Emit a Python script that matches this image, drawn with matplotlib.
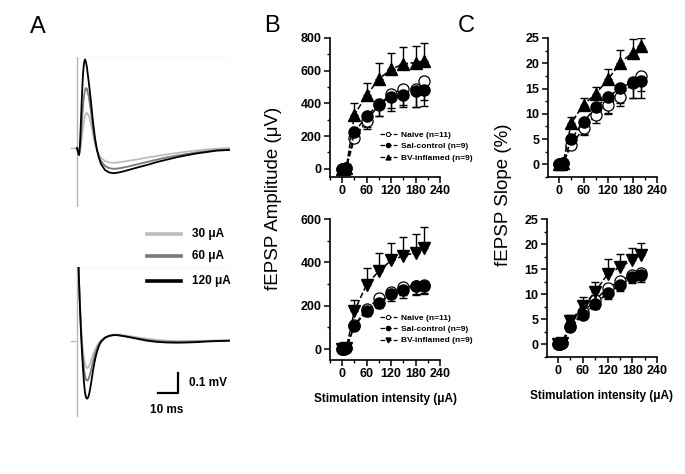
import matplotlib

matplotlib.use("Agg")

import matplotlib.pyplot as plt
from matplotlib.lines import Line2D
from matplotlib.ticker import MultipleLocator, AutoMinorLocator

plt.rcParams["font.family"] = ["Liberation Sans", "DejaVu Sans"]

# ---------------- panel A traces (time in ms, voltage in mV) ----------------
t_top = [0, 0.5, 1.0, 1.5, 2.0, 2.5, 3.0, 3.5, 4.0, 4.5, 5.0, 6.0, 7.0, 8.0, 9.0, 10, 11, 12,
         14, 16, 18, 20, 22, 25, 30, 35, 40, 45, 50, 55, 60, 65, 70, 76]
top_120 = [0, -0.02, -0.035, 0.02, 0.14, 0.27, 0.37, 0.425, 0.443, 0.43, 0.40, 0.32, 0.23, 0.13,
           0.05, -0.01, -0.05, -0.08, -0.11, -0.122, -0.126, -0.124, -0.12, -0.112, -0.098,
           -0.085, -0.07, -0.058, -0.046, -0.036, -0.027, -0.02, -0.013, -0.01]
top_60 = [0, -0.02, -0.035, -0.01, 0.06, 0.14, 0.21, 0.26, 0.29, 0.30, 0.295, 0.25, 0.18, 0.10,
          0.03, -0.01, -0.045, -0.065, -0.09, -0.10, -0.104, -0.103, -0.1, -0.094, -0.082,
          -0.07, -0.058, -0.047, -0.038, -0.03, -0.022, -0.016, -0.01, -0.008]
top_30 = [0, -0.02, -0.035, -0.02, 0.02, 0.06, 0.10, 0.135, 0.16, 0.172, 0.175, 0.16, 0.12, 0.07,
          0.02, -0.01, -0.035, -0.05, -0.065, -0.072, -0.074, -0.073, -0.07, -0.065, -0.057,
          -0.048, -0.04, -0.032, -0.025, -0.018, -0.012, -0.007, -0.003, 0.0]

t_bot = [0, 0.5, 1.0, 1.5, 2.0, 2.5, 3.0, 3.5, 4.0, 4.5, 5.0, 5.5, 6.0, 6.5, 7.0, 8.0, 9.0, 10,
         11, 12, 14, 16, 18, 20, 22, 25, 30, 35, 40, 45, 50, 55, 60, 65, 70, 76]
bot_120 = [0.6, 0.45, 0.3, 0.16, 0.04, -0.06, -0.14, -0.21, -0.26, -0.283, -0.29, -0.285, -0.27,
           -0.245, -0.215, -0.15, -0.095, -0.055, -0.025, -0.005, 0.015, 0.024, 0.028, 0.028,
           0.025, 0.02, 0.01, 0.0, -0.006, -0.009, -0.01, -0.009, -0.007, -0.004, -0.002, 0.0]
bot_60 = [0.6, 0.45, 0.3, 0.17, 0.06, -0.03, -0.09, -0.14, -0.175, -0.195, -0.2, -0.197, -0.185,
          -0.168, -0.148, -0.105, -0.068, -0.04, -0.018, -0.003, 0.014, 0.023, 0.027, 0.028,
          0.026, 0.021, 0.012, 0.004, -0.002, -0.005, -0.006, -0.005, -0.004, -0.002, -0.001, 0.0]
bot_30 = [0.6, 0.45, 0.3, 0.18, 0.08, 0.0, -0.05, -0.09, -0.115, -0.13, -0.137, -0.135, -0.127,
          -0.115, -0.1, -0.07, -0.045, -0.025, -0.01, 0.002, 0.016, 0.025, 0.03, 0.031, 0.029,
          0.025, 0.017, 0.01, 0.004, 0.0, -0.002, -0.002, -0.001, 0.0, 0.002, 0.002]

trace_labels = ["30 \u03bcA", "60 \u03bcA", "120 \u03bcA"]
trace_colors = ["#bdbdbd", "#7a7a7a", "#000000"]

# ---------------- panels B and C ----------------
intensity = [0, 5, 10, 30, 60, 90, 120, 150, 180, 200]

naive_amp1 = [0, 0, 5, 187, 295, 390, 460, 488, 490, 540]
naive_amp1_err = [0, 0, 0, 25, 50, 70, 90, 100, 110, 120]
sal_amp1 = [0, 0, 5, 225, 320, 398, 438, 452, 476, 482]
sal_amp1_err = [0, 0, 0, 20, 62, 75, 85, 75, 99, 97]
bv_amp1 = [0, 0, 5, 332, 450, 550, 608, 642, 650, 660]
bv_amp1_err = [0, 0, 0, 68, 77, 95, 100, 103, 101, 111]

naive_amp2 = [0, 0, 5, 110, 185, 235, 265, 285, 292, 298]
naive_amp2_err = [0, 0, 0, 15, 20, 25, 30, 35, 40, 40]
sal_amp2 = [0, 0, 5, 108, 175, 215, 254, 271, 290, 293]
sal_amp2_err = [0, 0, 0, 15, 20, 25, 30, 35, 40, 40]
bv_amp2 = [0, 0, 5, 177, 298, 360, 409, 430, 445, 468]
bv_amp2_err = [0, 0, 0, 48, 77, 85, 82, 85, 85, 95]

naive_sl1 = [0, 0, 0.2, 3.8, 7.1, 9.7, 11.7, 13.4, 16.0, 17.5]
naive_sl1_err = [0, 0, 0, 0.8, 1.2, 1.5, 1.8, 1.8, 2.8, 3.0]
sal_sl1 = [0, 0, 0.2, 5.0, 8.4, 11.3, 13.3, 15.1, 16.3, 16.4]
sal_sl1_err = [0, 0, 0, 0.8, 2.3, 2.4, 3.2, 3.0, 3.1, 3.2]
bv_sl1 = [0, 0, 0.2, 8.2, 11.8, 14.0, 16.8, 20.1, 22.1, 23.4]
bv_sl1_err = [0, 0, 0, 1.2, 1.4, 1.4, 2.1, 2.5, 2.8, 1.6]

naive_sl2 = [0, 0, 0.2, 3.6, 6.4, 8.8, 11.3, 12.6, 13.9, 14.3]
naive_sl2_err = [0, 0, 0, 0.5, 0.8, 1.0, 1.2, 1.2, 1.3, 1.4]
sal_sl2 = [0, 0, 0.2, 3.4, 5.9, 8.0, 10.3, 11.8, 13.5, 13.8]
sal_sl2_err = [0, 0, 0, 0.5, 0.8, 1.0, 1.2, 1.2, 1.3, 1.3]
bv_sl2 = [0, 0, 0.2, 4.7, 7.6, 10.5, 14.0, 15.4, 16.8, 17.8]
bv_sl2_err = [0, 0, 0, 1.1, 1.9, 2.0, 3.0, 2.6, 2.4, 2.5]

group_labels = ["Naive (n=11)", "Sal-control (n=9)", "BV-inflamed (n=9)"]

W, H = 685, 474


def box(x0, y0, x1, y1):
    return [x0 / W, 1 - y1 / H, (x1 - x0) / W, (y1 - y0) / H]


fig = plt.figure(figsize=(6.85, 4.74), dpi=100)


def trace_axes(rect, t, traces, ylim):
    ax = fig.add_axes(rect)
    ax.set_xlim(-1, 76.5)
    ax.set_ylim(*ylim)
    ax.axis("off")
    ax.axvline(0, color="#b5b5b5", lw=1.0)
    ax.plot([-3, -1], [0, 0], color="#b5b5b5", lw=1.0, clip_on=False)
    for ys in (ylim[0], ylim[1]):
        ax.axhline(ys, color="#e4e4e4", lw=0.6, ls=":")
    for v, c in zip(traces, trace_colors):
        ax.plot(t, v, color=c, lw=1.3)
    return ax


trace_axes(box(75, 57, 230, 207), t_top, [top_30, top_60, top_120], (-0.295, 0.455))
ax_bot = trace_axes(box(75, 267, 230, 417), t_bot, [bot_30, bot_60, bot_120], (-0.3815, 0.3685))

# scale bar
ax_bot.plot([40.5, 50.5, 50.5], [-0.26, -0.26, -0.16], color="black", lw=1.6, clip_on=False)
fig.text(189 / W, 1 - 383 / H, "0.1 mV", fontsize=8.5, fontweight="bold", va="center")
fig.text(167 / W, 1 - 410 / H, "10 ms", fontsize=8.5, fontweight="bold", va="center", ha="center")

# trace legend
for yy, lab, c in zip([234, 256, 281], trace_labels, trace_colors):
    fig.add_artist(Line2D([147 / W, 181 / W], [1 - yy / H] * 2, color=c, lw=2.6))
    fig.text(192 / W, 1 - yy / H, lab, fontsize=8.5, fontweight="bold", va="center")


def style_axes(ax, xlim, ylim, ymajor):
    ax.set_xlim(*xlim)
    ax.set_ylim(*ylim)
    ax.spines["top"].set_visible(False)
    ax.spines["right"].set_visible(False)
    for s in ("left", "bottom"):
        ax.spines[s].set_linewidth(1.2)
    ax.yaxis.set_major_locator(MultipleLocator(ymajor))
    ax.xaxis.set_minor_locator(AutoMinorLocator(2))
    ax.yaxis.set_minor_locator(AutoMinorLocator(2))
    ax.set_xticks([0, 60, 120, 180, 240])
    ax.tick_params(which="major", direction="out", length=4, width=1.1, labelsize=9, pad=2)
    ax.tick_params(which="minor", direction="out", length=2.5, width=1.0)
    for lab in ax.get_xticklabels() + ax.get_yticklabels():
        lab.set_fontweight("bold")


def draw_groups(ax, naive, naive_err, sal, sal_err, bv, bv_err, bv_marker):
    zeros = [0] * len(intensity)
    ekw = dict(fmt="none", ecolor="black", elinewidth=1.0, capsize=2.8, capthick=1.0, zorder=2)
    ax.errorbar(intensity, naive, yerr=[naive_err, zeros], **ekw)
    ax.errorbar(intensity, sal, yerr=[sal_err, zeros], **ekw)
    ax.errorbar(intensity, bv, yerr=[zeros, bv_err], **ekw)
    ax.plot(intensity, naive, ls="--", lw=1.1, color="black", marker="o", ms=8,
            mfc="white", mec="black", mew=0.9, zorder=3, clip_on=False)
    ax.plot(intensity, sal, ls="--", lw=1.1, color="black", marker="o", ms=8,
            mfc="black", mec="black", zorder=4, clip_on=False)
    ax.plot(intensity, bv, ls="--", lw=1.1, color="black", marker=bv_marker, ms=8.5,
            mfc="black", mec="black", zorder=5, clip_on=False)


def group_legend(ax, bv_marker, top_px):
    handles = [
        Line2D([], [], ls="--", lw=0.9, color="black", marker="o", ms=3, mfc="white", mew=0.7),
        Line2D([], [], ls="--", lw=0.9, color="black", marker="o", ms=3, mfc="black"),
        Line2D([], [], ls="--", lw=0.9, color="black", marker=bv_marker, ms=3.5, mfc="black"),
    ]
    leg = ax.legend(handles, group_labels, loc="upper left",
                    bbox_to_anchor=(380 / W, 1 - top_px / H), bbox_transform=fig.transFigure,
                    frameon=False, fontsize=6, handlelength=2.0, handletextpad=0.5,
                    labelspacing=0.42, borderpad=0, borderaxespad=0)
    for txt in leg.get_texts():
        txt.set_fontweight("bold")


axB1 = fig.add_axes(box(330, 38, 440, 177))
style_axes(axB1, (-30, 240), (-50, 800), 200)
draw_groups(axB1, naive_amp1, naive_amp1_err, sal_amp1, sal_amp1_err, bv_amp1, bv_amp1_err, "^")
group_legend(axB1, "^", 131)

axB2 = fig.add_axes(box(330, 219, 440, 360))
style_axes(axB2, (-30, 240), (-50, 600), 200)
draw_groups(axB2, naive_amp2, naive_amp2_err, sal_amp2, sal_amp2_err, bv_amp2, bv_amp2_err, "v")
group_legend(axB2, "v", 314)
axB2.set_xlabel("Stimulation intensity (\u03bcA)", fontsize=8.5, fontweight="bold", labelpad=9)

axC1 = fig.add_axes(box(548, 38, 657, 177))
style_axes(axC1, (-27, 240), (-2.5, 25), 5)
draw_groups(axC1, naive_sl1, naive_sl1_err, sal_sl1, sal_sl1_err, bv_sl1, bv_sl1_err, "^")

axC2 = fig.add_axes(box(547, 219, 657, 357))
style_axes(axC2, (-27, 240), (-2.5, 25), 5)
draw_groups(axC2, naive_sl2, naive_sl2_err, sal_sl2, sal_sl2_err, bv_sl2, bv_sl2_err, "v")
axC2.set_xlabel("Stimulation intensity (\u03bcA)", fontsize=8.5, fontweight="bold", labelpad=9)

fig.text(274 / W, 1 - 198 / H, "fEPSP Amplitude (\u03bcV)", fontsize=13.5, rotation=90,
         ha="center", va="center")
fig.text(503 / W, 1 - 195 / H, "fEPSP Slope (%)", fontsize=13.5, rotation=90,
         ha="center", va="center")

fig.text(38 / W, 1 - 27 / H, "A", fontsize=17, ha="center", va="center")
fig.text(272 / W, 1 - 26 / H, "B", fontsize=17, ha="center", va="center")
fig.text(466 / W, 1 - 26 / H, "C", fontsize=17, ha="center", va="center")

fig.savefig("out.png", dpi=100)
plt.close(fig)
